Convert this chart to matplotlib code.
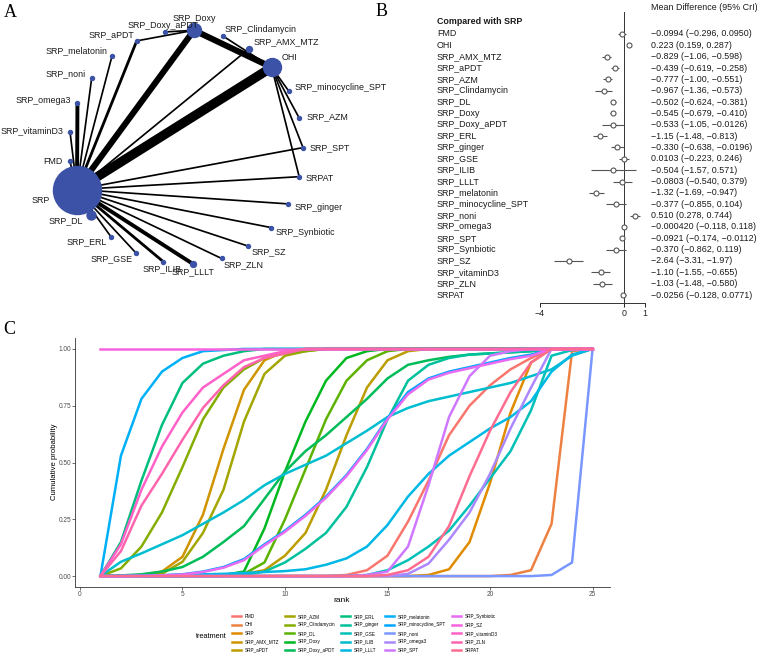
import numpy as np
import matplotlib
matplotlib.use("Agg")
import matplotlib.pyplot as plt
from matplotlib.lines import Line2D

plt.rcParams['font.family'] = ['Liberation Sans', 'DejaVu Sans']

# ---------------------------------------------------------------- data
# Panel A: network (nodes in circular order, relative node sizes, edges with number of studies)
net_order = ["SRP", "FMD", "SRP_vitaminD3", "SRP_omega3", "SRP_noni", "SRP_melatonin",
             "SRP_aPDT", "SRP_Doxy_aPDT", "SRP_Doxy", "SRP_Clindamycin", "SRP_AMX_MTZ",
             "OHI", "SRP_minocycline_SPT", "SRP_AZM", "SRP_SPT", "SRPAT", "SRP_ginger",
             "SRP_Synbiotic", "SRP_SZ", "SRP_ZLN", "SRP_LLLT", "SRP_ILIB", "SRP_GSE",
             "SRP_ERL", "SRP_DL"]
node_size = [48, 4, 4, 4, 4, 4, 4, 4, 14, 4, 6, 18, 4, 4, 4, 4, 4, 4, 4, 4, 6, 4, 4, 4, 9]

edge_from = ["SRP", "SRP", "SRP_Doxy", "SRP", "SRP", "SRP", "SRP", "SRP", "SRP", "SRP",
             "SRP", "SRP", "SRP", "SRP", "SRP", "SRP", "SRP", "SRP", "SRP", "SRP", "SRP",
             "SRP_aPDT", "SRP_Doxy_aPDT", "SRP_Clindamycin", "OHI", "OHI", "OHI", "OHI"]
edge_to = ["OHI", "SRP_Doxy", "OHI", "SRP_omega3", "SRP_LLLT", "SRP_DL", "SRP_aPDT",
           "SRP_ILIB", "SRP_AMX_MTZ", "SRP_melatonin", "SRP_noni", "SRP_vitaminD3", "FMD",
           "SRP_SPT", "SRPAT", "SRP_ginger", "SRP_Synbiotic", "SRP_SZ", "SRP_ZLN",
           "SRP_GSE", "SRP_ERL", "SRP_Doxy", "SRP_Doxy", "OHI", "SRP_minocycline_SPT",
           "SRP_AZM", "SRP_SPT", "SRPAT"]
edge_studies = [8, 5, 5, 3, 3, 2, 2, 2, 1, 1, 1, 1, 1, 1, 1, 1, 1, 1, 1, 1, 1, 1, 1, 1, 1, 1, 1, 1]

# Panel B: forest plot
fp_labels = ["FMD", "OHI", "SRP_AMX_MTZ", "SRP_aPDT", "SRP_AZM", "SRP_Clindamycin", "SRP_DL",
             "SRP_Doxy", "SRP_Doxy_aPDT", "SRP_ERL", "SRP_ginger", "SRP_GSE", "SRP_ILIB",
             "SRP_LLLT", "SRP_melatonin", "SRP_minocycline_SPT", "SRP_noni", "SRP_omega3",
             "SRP_SPT", "SRP_Synbiotic", "SRP_SZ", "SRP_vitaminD3", "SRP_ZLN", "SRPAT"]
fp_md = [-0.0994, 0.223, -0.829, -0.439, -0.777, -0.967, -0.502, -0.545, -0.533, -1.15,
         -0.330, 0.0103, -0.504, -0.0803, -1.32, -0.377, 0.510, -0.000420, -0.0921, -0.370,
         -2.64, -1.10, -1.03, -0.0256]
fp_lo = [-0.296, 0.159, -1.06, -0.619, -1.00, -1.36, -0.624, -0.679, -1.05, -1.48, -0.638,
         -0.223, -1.57, -0.540, -1.69, -0.855, 0.278, -0.118, -0.174, -0.862, -3.31, -1.55,
         -1.48, -0.128]
fp_hi = [0.0950, 0.287, -0.598, -0.258, -0.551, -0.573, -0.381, -0.410, -0.0126, -0.813,
         -0.0196, 0.246, 0.571, 0.379, -0.947, 0.104, 0.744, 0.118, -0.0112, 0.119, -1.97,
         -0.655, -0.580, 0.0771]
fp_ticks = [-4, 0, 1]

# Panel C: cumulative rank probabilities (ranks 1..25)
ranks = [1, 2, 3, 4, 5, 6, 7, 8, 9, 10, 11, 12, 13, 14, 15, 16, 17, 18, 19, 20, 21, 22, 23, 24, 25]
cum_FMD = [0, 0, 0, 0, 0, 0, 0, 0, 0, 0, 0, 0, 0.005, 0.026, 0.09, 0.24, 0.42, 0.62, 0.75, 0.84, 0.91, 0.96, 1, 1, 1]
cum_OHI = [0, 0, 0, 0, 0, 0, 0, 0, 0, 0, 0, 0, 0, 0, 0, 0, 0, 0, 0, 0, 0.005, 0.026, 0.23, 0.99, 1]
cum_SRP = [0, 0, 0, 0, 0, 0, 0, 0, 0, 0, 0, 0, 0, 0, 0, 0, 0.005, 0.03, 0.15, 0.41, 0.72, 0.94, 1, 1, 1]
cum_AMX_MTZ = [0, 0, 0.005, 0.02, 0.085, 0.27, 0.56, 0.82, 0.95, 0.99, 1, 1, 1, 1, 1, 1, 1, 1, 1, 1, 1, 1, 1, 1, 1]
cum_aPDT = [0, 0, 0, 0, 0, 0, 0.002, 0.01, 0.026, 0.09, 0.19, 0.38, 0.62, 0.83, 0.95, 0.99, 1, 1, 1, 1, 1, 1, 1, 1, 1]
cum_AZM = [0, 0, 0.003, 0.01, 0.063, 0.19, 0.38, 0.68, 0.89, 0.97, 0.99, 1, 1, 1, 1, 1, 1, 1, 1, 1, 1, 1, 1, 1, 1]
cum_Clindamycin = [0, 0.034, 0.13, 0.28, 0.48, 0.69, 0.83, 0.91, 0.96, 0.98, 0.99, 1, 1, 1, 1, 1, 1, 1, 1, 1, 1, 1, 1, 1, 1]
cum_DL = [0, 0, 0, 0, 0, 0, 0, 0.01, 0.06, 0.25, 0.47, 0.69, 0.86, 0.95, 0.99, 1, 1, 1, 1, 1, 1, 1, 1, 1, 1]
cum_Doxy = [0, 0, 0, 0, 0, 0.002, 0.005, 0.02, 0.21, 0.46, 0.68, 0.86, 0.96, 0.99, 1, 1, 1, 1, 1, 1, 1, 1, 1, 1, 1]
cum_Doxy_aPDT = [0, 0.003, 0.008, 0.02, 0.04, 0.085, 0.15, 0.22, 0.34, 0.46, 0.55, 0.62, 0.70, 0.78, 0.87, 0.93, 0.95, 0.965, 0.975, 0.98, 0.985, 0.99, 1, 1, 1]
cum_ERL = [0, 0.15, 0.42, 0.665, 0.85, 0.935, 0.97, 0.99, 1, 1, 1, 1, 1, 1, 1, 1, 1, 1, 1, 1, 1, 1, 1, 1, 1]
cum_ginger = [0, 0, 0, 0, 0, 0, 0, 0.005, 0.02, 0.06, 0.12, 0.19, 0.305, 0.48, 0.69, 0.86, 0.93, 0.96, 0.975, 0.98, 0.985, 0.99, 1, 1, 1]
cum_GSE = [0, 0, 0, 0, 0, 0, 0, 0, 0, 0, 0, 0, 0, 0.005, 0.026, 0.07, 0.13, 0.20, 0.31, 0.43, 0.55, 0.73, 0.97, 0.995, 1]
cum_ILIB = [0, 0.063, 0.10, 0.14, 0.18, 0.23, 0.28, 0.335, 0.40, 0.45, 0.49, 0.53, 0.585, 0.64, 0.70, 0.74, 0.77, 0.79, 0.81, 0.83, 0.85, 0.88, 0.91, 0.97, 1]
cum_LLLT = [0, 0, 0.002, 0.004, 0.006, 0.008, 0.01, 0.014, 0.018, 0.022, 0.03, 0.05, 0.078, 0.13, 0.225, 0.35, 0.45, 0.53, 0.59, 0.65, 0.70, 0.77, 0.90, 0.975, 1]
cum_melatonin = [0, 0.53, 0.78, 0.90, 0.96, 0.99, 0.995, 1, 1, 1, 1, 1, 1, 1, 1, 1, 1, 1, 1, 1, 1, 1, 1, 1, 1]
cum_minocycline_SPT = [0, 0, 0.001, 0.003, 0.008, 0.02, 0.04, 0.075, 0.14, 0.20, 0.27, 0.35, 0.445, 0.56, 0.695, 0.81, 0.87, 0.90, 0.92, 0.94, 0.96, 0.975, 1, 1, 1]
cum_noni = [0, 0, 0, 0, 0, 0, 0, 0, 0, 0, 0, 0, 0, 0, 0, 0, 0, 0, 0, 0, 0, 0, 0.005, 0.06, 1]
cum_omega3 = [0, 0, 0, 0, 0, 0, 0, 0, 0, 0, 0, 0, 0, 0, 0, 0.01, 0.055, 0.16, 0.28, 0.45, 0.65, 0.83, 1, 1, 1]
cum_SPT = [0, 0, 0, 0, 0, 0, 0, 0, 0, 0, 0, 0, 0, 0.005, 0.02, 0.13, 0.40, 0.70, 0.88, 0.97, 0.99, 1, 1, 1, 1]
cum_Synbiotic = [0, 0, 0.001, 0.003, 0.007, 0.018, 0.037, 0.07, 0.135, 0.195, 0.265, 0.345, 0.44, 0.555, 0.69, 0.80, 0.865, 0.895, 0.915, 0.935, 0.955, 0.97, 1, 1, 1]
cum_SZ = [1, 1, 1, 1, 1, 1, 1, 1, 1, 1, 1, 1, 1, 1, 1, 1, 1, 1, 1, 1, 1, 1, 1, 1, 1]
cum_vitaminD3 = [0, 0.14, 0.38, 0.57, 0.72, 0.83, 0.89, 0.95, 0.97, 0.99, 1, 1, 1, 1, 1, 1, 1, 1, 1, 1, 1, 1, 1, 1, 1]
cum_ZLN = [0, 0.11, 0.31, 0.45, 0.60, 0.74, 0.84, 0.92, 0.96, 0.98, 1, 1, 1, 1, 1, 1, 1, 1, 1, 1, 1, 1, 1, 1, 1]
cum_SRPAT = [0, 0, 0, 0, 0, 0, 0, 0, 0, 0, 0, 0, 0, 0, 0.005, 0.026, 0.085, 0.22, 0.44, 0.64, 0.81, 0.94, 1, 1, 1]

treatments = ["FMD", "OHI", "SRP", "SRP_AMX_MTZ", "SRP_aPDT", "SRP_AZM", "SRP_Clindamycin",
              "SRP_DL", "SRP_Doxy", "SRP_Doxy_aPDT", "SRP_ERL", "SRP_ginger", "SRP_GSE",
              "SRP_ILIB", "SRP_LLLT", "SRP_melatonin", "SRP_minocycline_SPT", "SRP_noni",
              "SRP_omega3", "SRP_SPT", "SRP_Synbiotic", "SRP_SZ", "SRP_vitaminD3", "SRP_ZLN",
              "SRPAT"]
curves = [cum_FMD, cum_OHI, cum_SRP, cum_AMX_MTZ, cum_aPDT, cum_AZM, cum_Clindamycin, cum_DL,
          cum_Doxy, cum_Doxy_aPDT, cum_ERL, cum_ginger, cum_GSE, cum_ILIB, cum_LLLT,
          cum_melatonin, cum_minocycline_SPT, cum_noni, cum_omega3, cum_SPT, cum_Synbiotic,
          cum_SZ, cum_vitaminD3, cum_ZLN, cum_SRPAT]


# ---------------------------------------------------------------- helpers
def hcl_hex(h, c=100.0, l=65.0):
    hr = np.deg2rad(h)
    U, V = c * np.cos(hr), c * np.sin(hr)
    Y = 100.0 * (((l + 16) / 116) ** 3 if l > 7.999592 else l / 903.3)
    Xn, Yn, Zn = 95.047, 100.0, 108.883
    den = Xn + 15 * Yn + 3 * Zn
    un, vn = 4 * Xn / den, 9 * Yn / den
    u = U / (13 * l) + un
    v = V / (13 * l) + vn
    X = 9.0 * Y * u / (4 * v)
    Z = -X / 3 - 5 * Y + 3 * Y / v

    def g(t):
        return 1.055 * t ** (1 / 2.4) - 0.055 if t > 0.00304 else 12.92 * t
    r = g((3.240479 * X - 1.537150 * Y - 0.498535 * Z) / Yn)
    gg = g((-0.969256 * X + 1.875992 * Y + 0.041556 * Z) / Yn)
    b = g((0.055648 * X - 0.204043 * Y + 1.057311 * Z) / Yn)
    return tuple(min(1, max(0, x)) for x in (r, gg, b))


def hue_pal(n):
    return [hcl_hex(15 + 360.0 * i / n) for i in range(n)]


W, H = 761, 659
fig = plt.figure(figsize=(W / 100, H / 100), dpi=100)


def px_axes(x0, y0, x1, y1):
    return fig.add_axes([x0 / W, 1 - y1 / H, (x1 - x0) / W, (y1 - y0) / H])


SERIF = ['Liberation Serif', 'DejaVu Serif']
fig.text(4 / W, 1 - 4 / H, "A", family=SERIF, fontsize=13, ha='left', va='top')
fig.text(376 / W, 1 - 3 / H, "B", family=SERIF, fontsize=13, ha='left', va='top')
fig.text(3 / W, 1 - 321 / H, "C", family=SERIF, fontsize=13, ha='left', va='top')

# ---------------------------------------------------------------- Panel A
axA = px_axes(0, 0, 380, 300)
axA.set_xlim(0, 380)
axA.set_ylim(300, 0)
axA.axis('off')
cx, cy, Rc = 186.0, 147.0, 117.0
n_nodes = len(net_order)
pos = {}
dirs = {}
for k, name in enumerate(net_order):
    th = np.deg2rad(201.3 - 360.0 * k / n_nodes)
    dirs[name] = (np.cos(th), -np.sin(th))
    pos[name] = (cx + Rc * np.cos(th), cy - Rc * np.sin(th))

for a, b, n in zip(edge_from, edge_to, edge_studies):
    lw_px = 0.6 + 1.1 * n
    axA.plot([pos[a][0], pos[b][0]], [pos[a][1], pos[b][1]], color='black',
             lw=lw_px * 0.72, solid_capstyle='butt', zorder=1)

node_col = '#3B52A6'
for name, s in zip(net_order, node_size):
    x, y = pos[name]
    axA.plot(x, y, 'o', ms=s * 0.72, color=node_col, mec=node_col, zorder=2)
    dx, dy = dirs[name]
    off = s / 2 + 5
    if dx < -0.3:
        ha = 'right'
    elif dx > 0.3:
        ha = 'left'
    else:
        ha = 'center'
    axA.text(x + off * dx, y + off * dy, name, fontsize=6.4, ha=ha, va='center',
             color='#1a1a1a', zorder=3)

# ---------------------------------------------------------------- Panel B
x0px, pxu = 624.0, 21.0
axB = px_axes(430, 0, 761, 303)
axB.set_xlim((430 - x0px) / pxu, (761 - x0px) / pxu)
axB.set_ylim(303, 0)
for sp in ['top', 'right', 'left']:
    axB.spines[sp].set_visible(False)
axB.spines['bottom'].set_bounds(fp_ticks[0], fp_ticks[-1])
axB.spines['bottom'].set_linewidth(0.7)
axB.spines['bottom'].set_color('#333333')
axB.set_xticks(fp_ticks)
axB.set_xticklabels([str(t).replace('-', '\u2212') for t in fp_ticks])
axB.tick_params(axis='x', length=3, width=0.7, labelsize=6.4, pad=1.5, colors='#222222')
axB.set_yticks([])
axB.patch.set_alpha(0)

row_y = [34 + 11.35 * i for i in range(len(fp_labels))]
axB.plot([0, 0], [12, 303], color='#333333', lw=0.7)
axB.hlines(row_y, fp_lo, fp_hi, color='#555555', lw=0.8)
axB.plot(fp_md, row_y, 'o', mfc='white', mec='#555555', ms=3.6, mew=0.8, ls='none')

lab_x = (437 - x0px) / pxu
val_x = (651 - x0px) / pxu


def fmt(v):
    return format(v, '#.3g').replace('-', '\u2212')


axB.text(lab_x, 21, "Compared with SRP", fontsize=6.4, fontweight='bold', ha='left',
         va='center', color='#1a1a1a')
axB.text(val_x, 8, "Mean Difference (95% CrI)", fontsize=6.4, ha='left', va='center',
         color='#1a1a1a')
for y, lab, m, lo, hi in zip(row_y, fp_labels, fp_md, fp_lo, fp_hi):
    axB.text(lab_x, y, lab, fontsize=6.4, ha='left', va='center', color='#1a1a1a')
    axB.text(val_x, y, f"{fmt(m)} ({fmt(lo)}, {fmt(hi)})", fontsize=6.4, ha='left',
             va='center', color='#1a1a1a')

# ---------------------------------------------------------------- Panel C
cols = hue_pal(len(treatments))
axC = px_axes(75, 338, 610, 587)
handles = []
for name, cum, col in zip(treatments, curves, cols):
    axC.plot(ranks, cum, color=col, lw=1.8, solid_joinstyle='round')
    handles.append(Line2D([], [], color=col, lw=1.8))
axC.set_xlim(-0.24, 25.85)
axC.set_ylim(-0.048, 1.048)
axC.set_xticks([0, 5, 10, 15, 20, 25])
axC.set_yticks([0, 0.25, 0.5, 0.75, 1.0])
axC.set_yticklabels(['0.00', '0.25', '0.50', '0.75', '1.00'])
for sp in ['top', 'right']:
    axC.spines[sp].set_visible(False)
for sp in ['left', 'bottom']:
    axC.spines[sp].set_linewidth(0.6)
    axC.spines[sp].set_color('#333333')
axC.tick_params(length=2, width=0.5, labelsize=4.7, labelcolor='#4D4D4D', color='#333333', pad=0.8)

fig.text(342 / W, 1 - 600 / H, "rank", fontsize=6, ha='center', va='center')
fig.text(54 / W, 1 - 462 / H, "Cumulative probability", fontsize=5.6, ha='center',
         va='center', rotation=90)
fig.text(227 / W, 1 - 637 / H, "treatment", fontsize=5.3, ha='right', va='center')
fig.legend(handles, treatments, ncol=5, loc='upper left',
           bbox_to_anchor=(232 / W, 1 - 614 / H), frameon=False, fontsize=3.3,
           handlelength=2.0, handletextpad=0.75, labelspacing=0.75, columnspacing=1.3,
           borderpad=0, borderaxespad=0)

fig.savefig("out.png", dpi=100)
